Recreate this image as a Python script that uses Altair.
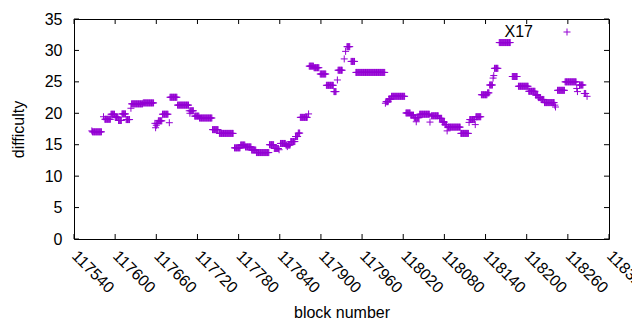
import altair as alt
import pandas as pd

# Runs of constant difficulty: first block, last block, difficulty
run_start = [117566, 117567, 117583, 117585, 117594, 117600, 117605, 117610, 117616, 117623,
             117624, 117641, 117658, 117659, 117660, 117661, 117663, 117669, 117679, 117680,
             117691, 117708, 117709, 117710, 117716, 117723, 117742, 117752, 117774, 117783,
             117790, 117799, 117806, 117825, 117832, 117839, 117841, 117849, 117851, 117852,
             117856, 117863, 117867, 117870, 117882, 117883, 117890, 117899, 117908, 117919,
             117924, 117925, 117934, 117936, 117938, 117944, 117951, 117994, 117995, 117999,
             118003, 118024, 118031, 118036, 118039, 118040, 118044, 118059, 118061, 118073,
             118077, 118081, 118084, 118085, 118104, 118116, 118117, 118125, 118126, 118134,
             118143, 118146, 118151, 118152, 118153, 118160, 118179, 118188, 118203, 118213,
             118217, 118221, 118226, 118241, 118242, 118245, 118256, 118273, 118274, 118277,
             118284, 118288]
run_end = [117566, 117580, 117583, 117593, 117599, 117604, 117609, 117615, 117621, 117623,
           117640, 117656, 117658, 117659, 117660, 117662, 117668, 117677, 117679, 117690,
           117707, 117708, 117709, 117714, 117722, 117741, 117750, 117772, 117782, 117789,
           117798, 117805, 117824, 117831, 117838, 117839, 117848, 117850, 117851, 117855,
           117862, 117866, 117869, 117880, 117882, 117889, 117897, 117907, 117918, 117922,
           117924, 117931, 117934, 117936, 117942, 117949, 117993, 117994, 117998, 118002,
           118022, 118030, 118035, 118038, 118039, 118043, 118058, 118059, 118071, 118076,
           118080, 118083, 118084, 118103, 118115, 118116, 118124, 118125, 118133, 118142,
           118145, 118150, 118151, 118152, 118158, 118176, 118186, 118202, 118212, 118216,
           118220, 118225, 118240, 118241, 118242, 118255, 118272, 118273, 118274, 118282,
           118286, 118288]
run_value = [17.2, 17.05, 19.45, 19.05, 19.85, 19.4, 18.85, 19.9, 19.0, 20.8,
             21.5, 21.65, 18.4, 17.7, 18.1, 18.4, 18.8, 19.85, 18.5, 22.55,
             21.3, 20.4, 20.0, 20.4, 19.55, 19.25, 17.4, 16.8, 14.5, 14.95,
             14.65, 14.15, 13.75, 15.0, 14.4, 14.2, 15.2, 14.95, 14.7, 14.95,
             15.5, 16.3, 16.85, 19.35, 19.9, 27.5, 27.25, 26.25, 24.45, 23.45,
             25.3, 26.85, 28.65, 29.85, 30.6, 28.25, 26.5, 21.6, 21.85, 22.25,
             22.7, 20.05, 19.7, 19.3, 18.65, 19.3, 19.85, 18.6, 19.6, 19.2,
             18.6, 18.2, 17.2, 17.8, 16.8, 18.55, 19.0, 18.2, 19.45, 22.95,
             23.25, 24.5, 25.6, 26.0, 27.15, 31.25, 25.85, 24.3, 23.5, 22.9,
             22.5, 22.2, 21.7, 21.3, 21.0, 23.65, 25.0, 23.95, 23.45, 24.5,
             23.15, 22.7]

x_ticks = [117540, 117600, 117660, 117720, 117780, 117840, 117900, 117960,
           118020, 118080, 118140, 118200, 118260, 118320]
y_ticks = [0, 5, 10, 15, 20, 25, 30, 35]
legend_label = ["X17"]

rows = []
for s, e, v in zip(run_start, run_end, run_value):
    for b in range(s, e + 1):
        rows.append({"block": b, "difficulty": v})
df = pd.DataFrame(rows)
xt_df = pd.DataFrame({"block": x_ticks})
yt_df = pd.DataFrame({"difficulty": y_ticks})
leg_df = pd.DataFrame({"label": legend_label})

W, H = 535, 220
COLOR = "#9400d3"
PLUS = "M-1,0L1,0M0,-1L0,1"
FONT = "Liberation Sans"
TICK = 5

xs = alt.Scale(domain=[x_ticks[0], x_ticks[-1]], nice=False, zero=False)
ys = alt.Scale(domain=[y_ticks[0], y_ticks[-1]], nice=False)

x_axis = alt.Axis(
    values=x_ticks, format="d", labelAngle=45, labelAlign="left",
    labelBaseline="middle", labelPadding=14, ticks=False, domain=False,
    grid=False, labelOverlap=False, labelFlush=False,
    title="block number", titleX=W / 2, titleY=78, titleBaseline="alphabetic",
    titleAlign="center")
y_axis = alt.Axis(
    values=y_ticks, ticks=False, domain=False, grid=False, labelPadding=12,
    title="difficulty", titleX=-56, titleY=H / 2, titleAngle=270,
    titleBaseline="middle", titleAlign="center")

X = alt.X("block:Q", scale=xs, axis=x_axis)
Y = alt.Y("difficulty:Q", scale=ys, axis=y_axis)

points = alt.Chart(df).mark_point(
    shape=PLUS, filled=False, size=49, strokeWidth=1, color=COLOR, opacity=1
).encode(x=X, y=Y)

xt_bottom = alt.Chart(xt_df).mark_rule(color="black", strokeWidth=1).encode(
    x=X, y=alt.value(H), y2=alt.value(H - TICK))
xt_top = alt.Chart(xt_df).mark_rule(color="black", strokeWidth=1).encode(
    x=X, y=alt.value(0), y2=alt.value(TICK))
yt_left = alt.Chart(yt_df).mark_rule(color="black", strokeWidth=1).encode(
    y=Y, x=alt.value(0), x2=alt.value(TICK))
yt_right = alt.Chart(yt_df).mark_rule(color="black", strokeWidth=1).encode(
    y=Y, x=alt.value(W), x2=alt.value(W - TICK))

leg_text = alt.Chart(leg_df).mark_text(
    align="right", baseline="middle", font=FONT, fontSize=16, color="black"
).encode(text="label:N", x=alt.value(459), y=alt.value(13))
leg_pt = alt.Chart(leg_df).mark_point(
    shape=PLUS, filled=False, size=49, strokeWidth=1, color=COLOR, opacity=1
).encode(x=alt.value(493), y=alt.value(13))

chart = alt.layer(points, xt_bottom, xt_top, yt_left, yt_right, leg_text, leg_pt).properties(
    width=W, height=H,
    padding={"left": 66, "top": 11, "right": 23, "bottom": 80},
    autosize=alt.AutoSizeParams(type="none"),
).configure_view(stroke="black", strokeWidth=1).configure_axis(
    labelFont=FONT, titleFont=FONT, labelFontSize=16, titleFontSize=16,
    labelColor="black", titleColor="black", titleFontWeight="normal",
)

chart.save("out.html", embed_options={"renderer": "svg", "actions": False})
